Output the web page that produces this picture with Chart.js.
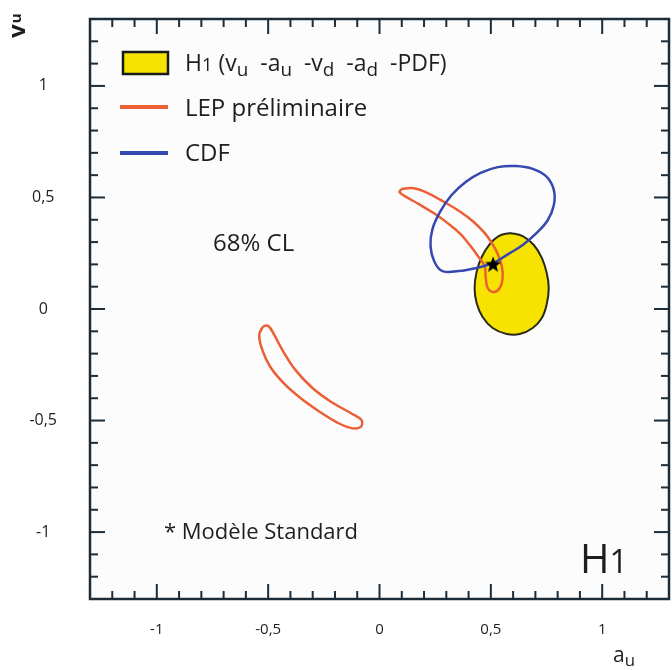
<!DOCTYPE html>
<html><head><meta charset="utf-8">
<script src="https://cdn.jsdelivr.net/npm/chart.js@4/dist/chart.umd.min.js"></script>
<style>html,body{margin:0;padding:0;background:#fff;}</style>
</head><body>
<canvas id="c" width="672" height="670" style="width:672px;height:670px;display:block"></canvas>
<script>
// ---- axis ticks ----
const xTickValues = [-1, -0.5, 0, 0.5, 1];
const xTickLabels = ['-1', '-0,5', '0', '0,5', '1'];
const yTickValues = [-1, -0.5, 0, 0.5, 1];
const yTickLabels = ['-1', '-0,5', '0', '0,5', '1'];

// ---- H1 68% CL contour (v_u - a_u - v_d - a_d - PDF) ----
const h1X = [0.585, 0.643, 0.693, 0.729, 0.751, 0.760, 0.751, 0.729, 0.688, 0.630, 0.571, 0.508, 0.463, 0.436, 0.427, 0.436, 0.459, 0.495, 0.535, 0.585];
const h1Y = [0.341, 0.327, 0.287, 0.229, 0.161, 0.094, 0.022, -0.040, -0.085, -0.112, -0.112, -0.085, -0.036, 0.027, 0.094, 0.166, 0.233, 0.291, 0.327, 0.341];

// ---- CDF contour ----
const cdfX = [0.513, 0.580, 0.643, 0.706, 0.756, 0.783, 0.783, 0.751, 0.688, 0.612, 0.531, 0.454, 0.387, 0.324, 0.274, 0.238, 0.229, 0.247, 0.283, 0.355, 0.436, 0.513];
const cdfY = [0.206, 0.247, 0.287, 0.341, 0.399, 0.466, 0.533, 0.592, 0.628, 0.641, 0.636, 0.610, 0.569, 0.511, 0.439, 0.359, 0.282, 0.211, 0.170, 0.170, 0.184, 0.206];

// ---- LEP préliminaire contours ----
const lepUpX = [0.099, 0.148, 0.207, 0.274, 0.364, 0.423, 0.472, 0.504, 0.531, 0.549, 0.553, 0.540, 0.513, 0.486, 0.477, 0.472, 0.445, 0.409, 0.364, 0.306, 0.243, 0.175, 0.112, 0.090, 0.099];
const lepUpY = [0.538, 0.542, 0.524, 0.489, 0.435, 0.390, 0.341, 0.296, 0.247, 0.193, 0.139, 0.094, 0.076, 0.094, 0.143, 0.193, 0.233, 0.282, 0.336, 0.385, 0.430, 0.471, 0.507, 0.524, 0.538];
const lepLoX = [-0.522, -0.540, -0.526, -0.490, -0.427, -0.355, -0.274, -0.193, -0.130, -0.085, -0.081, -0.130, -0.216, -0.301, -0.378, -0.436, -0.472, -0.499, -0.522];
const lepLoY = [-0.076, -0.117, -0.184, -0.260, -0.336, -0.399, -0.457, -0.507, -0.533, -0.529, -0.498, -0.466, -0.417, -0.354, -0.273, -0.184, -0.117, -0.076, -0.076];

// ---- Standard Model point ----
const smX = [0.51];
const smY = [0.20];

const pts = (xs, ys) => xs.map((x, i) => ({x, y: ys[i]}));

const FONT = '"Open Sans", "DejaVu Sans", sans-serif';
const INK = '#1e1e1e';
const FRAME = '#1c2c38';
const ORANGE = '#ec5f35';
const BLUE = '#3548b0';
const YELLOW = '#f7e300';

// filled star point style
const starCanvas = document.createElement('canvas');
starCanvas.width = 18; starCanvas.height = 18;
(function(){
  const c = starCanvas.getContext('2d');
  c.fillStyle = '#000';
  c.beginPath();
  for (let i = 0; i < 10; i++) {
    const r = i % 2 === 0 ? 8.5 : 3.6;
    const a = -Math.PI / 2 + i * Math.PI / 5;
    const px = 9 + r * Math.cos(a), py = 9.5 + r * Math.sin(a);
    if (i === 0) c.moveTo(px, py); else c.lineTo(px, py);
  }
  c.closePath(); c.fill();
})();

function rich(ctx, parts, x, y, size, subScale) {
  let cx = x;
  const ss = subScale || 0.72;
  for (const p of parts) {
    let s = size, dy = 0;
    if (p.sub) { s = size * ss; dy = size * 0.2; }
    if (p.small) { s = size * 0.8; }
    ctx.font = (p.bold ? 'bold ' : '') + s + 'px ' + FONT;
    ctx.fillText(p.t, cx, y + dy);
    cx += ctx.measureText(p.t).width;
  }
  return cx;
}

const decor = {
  id: 'decor',
  beforeDatasetsDraw(chart) {
    const {ctx, chartArea: a} = chart;
    ctx.save();
    ctx.fillStyle = '#fcfcfc';
    ctx.fillRect(a.left, a.top, a.right - a.left, a.bottom - a.top);
    ctx.restore();
  },
  afterDatasetsDraw(chart) {
    const {ctx, chartArea: a, scales: {x, y}} = chart;
    ctx.save();
    ctx.strokeStyle = FRAME; ctx.lineWidth = 2; ctx.lineCap = 'butt';
    const seg = (x1, y1, x2, y2) => { ctx.beginPath(); ctx.moveTo(x1, y1); ctx.lineTo(x2, y2); ctx.stroke(); };
    for (let i = -13; i <= 13; i++) {
      const v = i / 10;
      const L = (i % 5 === 0) ? 15 : 8;
      const px = x.getPixelForValue(v);
      if (px > a.left + 2 && px < a.right - 2) { seg(px, a.bottom, px, a.bottom - L); seg(px, a.top, px, a.top + L); }
      const py = y.getPixelForValue(v);
      if (py > a.top + 2 && py < a.bottom - 2) { seg(a.left, py, a.left + L, py); seg(a.right, py, a.right - L, py); }
    }
    ctx.lineWidth = 2.5;
    ctx.strokeRect(a.left, a.top, a.right - a.left, a.bottom - a.top);

    // legend
    const lx = a.left + 33;
    ctx.fillStyle = YELLOW; ctx.fillRect(lx, 52, 45, 22);
    ctx.strokeStyle = '#1a1a1a'; ctx.lineWidth = 2.5; ctx.strokeRect(lx, 52, 45, 22);
    ctx.lineWidth = 4;
    ctx.strokeStyle = ORANGE; seg(lx - 3, 107, lx + 45, 107);
    ctx.strokeStyle = BLUE; seg(lx - 3, 153, lx + 45, 153);
    ctx.fillStyle = INK; ctx.textBaseline = 'alphabetic'; ctx.textAlign = 'left';
    const tx = lx + 62;
    rich(ctx, [{t:'H'},{t:'1',small:true},{t:' (v'},{t:'u',sub:true},{t:'  -a'},{t:'u',sub:true},{t:'  -v'},{t:'d',sub:true},{t:'  -a'},{t:'d',sub:true},{t:'  -PDF)'}], tx, 71, 23, 0.82);
    rich(ctx, [{t:'LEP préliminaire'}], tx, 116, 24);
    rich(ctx, [{t:'CDF'}], tx, 161, 24);

    // annotations
    rich(ctx, [{t:'68% CL'}], 213, 251, 24);
    rich(ctx, [{t:'* Modèle Standard'}], 164, 539, 22);
    rich(ctx, [{t:'H'},{t:'1',small:true}], 580, 573, 40);

    // axis titles
    rich(ctx, [{t:'a'},{t:'u',sub:true}], 613, 662, 21, 0.8);
    ctx.save();
    ctx.translate(25, 38);
    ctx.rotate(-Math.PI / 2);
    ctx.font = 'bold 24px ' + FONT;
    ctx.fillText('v', 0, 0);
    const w = ctx.measureText('v').width;
    ctx.font = 'bold 15px ' + FONT;
    ctx.fillText('u', w + 1, -4);
    ctx.restore();
    ctx.restore();
  }
};

const contour = (label, data, color, width, fillColor, order) => ({
  label, data, showLine: true, borderColor: color, borderWidth: width,
  backgroundColor: fillColor || 'rgba(0,0,0,0)', fill: fillColor ? 'shape' : false,
  pointRadius: 0, pointHoverRadius: 0, tension: 0.4, order
});

const noPad = s => { s.paddingTop = 0; s.paddingBottom = 0; s.paddingLeft = 0; s.paddingRight = 0; };

new Chart(document.getElementById('c'), {
  type: 'scatter',
  data: {
    datasets: [
      {label: 'Modèle Standard', data: pts(smX, smY), pointStyle: starCanvas, pointRadius: 9, order: 0},
      contour('CDF', pts(cdfX, cdfY), BLUE, 2.5, null, 1),
      contour('LEP préliminaire', pts(lepUpX, lepUpY), ORANGE, 2.5, null, 2),
      contour('LEP préliminaire', pts(lepLoX, lepLoY), ORANGE, 2.5, null, 3),
      contour('H1', pts(h1X, h1Y), '#2a2a1a', 2, YELLOW, 4)
    ]
  },
  options: {
    responsive: false, animation: false, devicePixelRatio: 1,
    events: [],
    layout: {autoPadding: false, padding: {top: 19, right: 3, left: 0, bottom: 0}},
    plugins: {legend: {display: false}, tooltip: {enabled: false}},
    scales: {
      x: {
        type: 'linear', min: -1.3, max: 1.3,
        grid: {display: false, drawTicks: false}, border: {display: false},
        afterBuildTicks: s => { s.ticks = xTickValues.map(v => ({value: v})); },
        afterFit: s => { s.height = 71; noPad(s); },
        ticks: {
          padding: 22, color: INK, font: {family: FONT, size: 15},
          callback: v => xTickLabels[xTickValues.indexOf(v)]
        }
      },
      y: {
        type: 'linear', min: -1.3, max: 1.3,
        grid: {display: false, drawTicks: false}, border: {display: false},
        afterBuildTicks: s => { s.ticks = yTickValues.map(v => ({value: v})); },
        afterFit: s => { s.width = 90; noPad(s); },
        ticks: {
          padding: 33, crossAlign: 'center', color: INK, font: {family: FONT, size: 16},
          callback: v => yTickLabels[yTickValues.indexOf(v)]
        }
      }
    }
  },
  plugins: [decor]
});
</script>
</body></html>
